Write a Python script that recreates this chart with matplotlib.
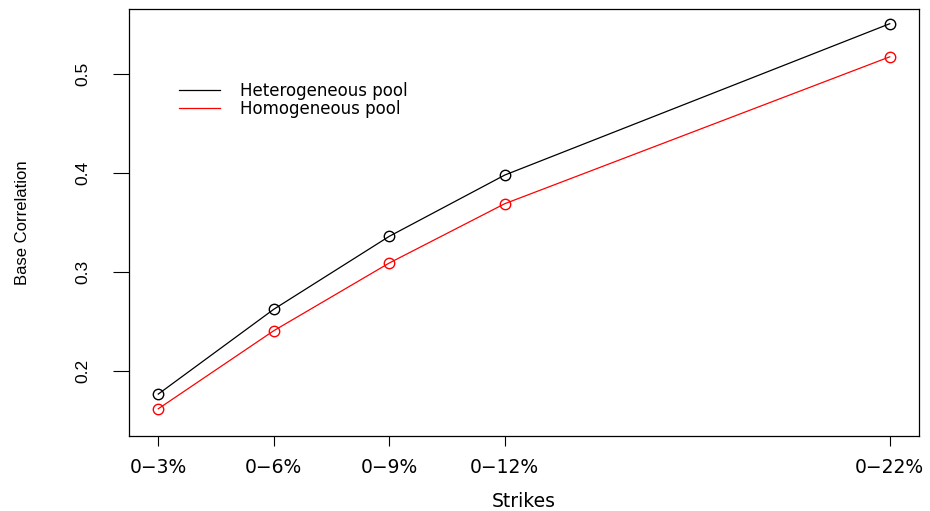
import matplotlib
matplotlib.use("Agg")
import matplotlib.pyplot as plt
from matplotlib import font_manager

# Tranche strikes (upper detachment, %) and their labels
strikes = [3, 6, 9, 12, 22]
strike_labels = ["0\u22123%", "0\u22126%", "0\u22129%", "0\u221212%", "0\u221222%"]

# Base correlation per tranche
heterogeneous = [0.1764, 0.2622, 0.3360, 0.3980, 0.5511]
homogeneous = [0.1615, 0.2405, 0.3090, 0.3690, 0.5176]

y_ticks = [0.2, 0.3, 0.4, 0.5]
y_tick_labels = ["0.2", "0.3", "0.4", "0.5"]

series_names = ["Heterogeneous pool", "Homogeneous pool"]
series_colors = ["black", "red"]

available = {f.name for f in font_manager.fontManager.ttflist}
narrow = "Liberation Sans Narrow" if "Liberation Sans Narrow" in available else "Liberation Sans"
wide = "DejaVu Sans"

fig = plt.figure(figsize=(9.30, 5.11), dpi=100)
ax = fig.add_axes([129 / 930, 1 - 436 / 511, (919 - 129) / 930, (436 - 9) / 511])

for values, name, color in zip([heterogeneous, homogeneous], series_names, series_colors):
    ax.plot(strikes, values, color=color, linewidth=0.9, label=name,
            marker="o", markersize=7.5, markerfacecolor="none",
            markeredgecolor=color, markeredgewidth=1.0)

ax.set_xlim(2.24, 22.76)
ax.set_ylim(0.134, 0.566)

ax.set_xticks(strikes)
ax.set_xticklabels(strike_labels, fontfamily=wide, fontsize=13.5)
ax.set_yticks(y_ticks)
ax.set_yticklabels(y_tick_labels, fontfamily=narrow, fontsize=12.5,
                   rotation=90, va="center")

ax.tick_params(axis="x", length=7.5, width=0.8, pad=8, color="black")
ax.tick_params(axis="y", length=11.5, width=0.8, pad=16, color="black")

for spine in ax.spines.values():
    spine.set_linewidth(0.9)
    spine.set_color("black")

ax.set_xlabel("Strikes", fontfamily=wide, fontsize=13.5, labelpad=11)
ax.set_ylabel("Base Correlation", fontfamily=narrow, fontsize=12, labelpad=33)

leg = ax.legend(loc="upper left", bbox_to_anchor=(0.0543, 0.8445),
                frameon=False, handlelength=2.5, handletextpad=1.2,
                labelspacing=-0.02, borderaxespad=0,
                prop={"family": wide, "size": 12})
for line in leg.get_lines():
    line.set_marker("")
    line.set_linewidth(0.9)

fig.savefig("out.png", dpi=100)
